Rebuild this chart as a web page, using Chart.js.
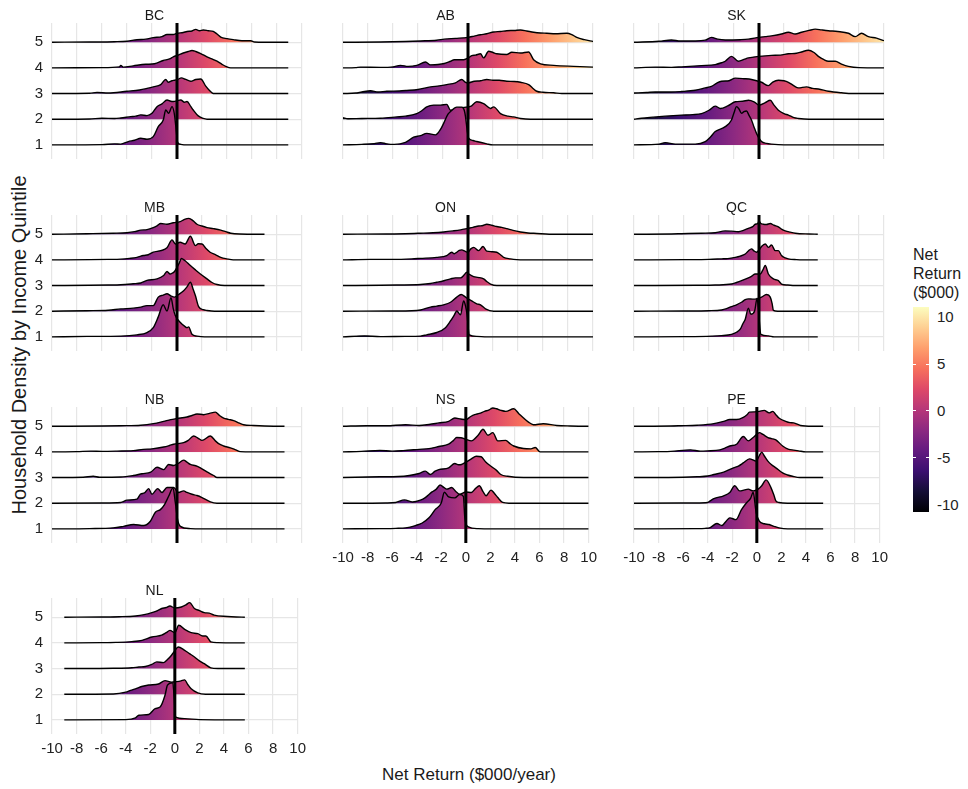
<!DOCTYPE html>
<html>
<head>
<meta charset="utf-8">
<script src="https://cdn.jsdelivr.net/npm/chart.js@4.4.1/dist/chart.umd.min.js"></script>
<style>
  body { margin: 0; background: #fff; width: 968px; height: 789px; position: relative; overflow: hidden;
         font-family: "Liberation Sans", Arial, sans-serif; }
  canvas { position: absolute; }
  .txt { position: absolute; color: #1a1a1a; white-space: nowrap; }
</style>
</head>
<body>
<div class="txt" style="left:0;width:938px;top:765px;font-size:17px;text-align:center;">Net Return ($000/year)</div>
<div class="txt" style="left:19px;top:345px;font-size:20px;transform:translate(-50%,-50%) rotate(-90deg);">Household Density by Income Quintile</div>
<div id="legend"></div>

<script>
// provinces in facet order, quintiles bottom to top
const provinces = ["BC", "AB", "SK", "MB", "ON", "QC", "NB", "NS", "PE", "NL"];
const quintiles = [1, 2, 3, 4, 5];
const xTicks = [-10, -8, -6, -4, -2, 0, 2, 4, 6, 8, 10];
const legendTicks = [10, 5, 0, -5, -10];
const colourMin = -10.8, colourMax = 11.1;

// density curves: [net return ($000), height] for quintile 1..5
const BC = [
  [[-10,0],[-6,0.01],[-5,0.04],[-4.5,0.03],[-3.9,0.13],[-3.4,0.18],[-2.9,0.26],[-2.4,0.22],[-1.9,0.32],[-1.5,0.71],[-1.1,0.97],[-0.9,1.36],[-0.67,1.23],[-0.4,1.49],[-0.2,1.17],[-0.05,0.5],[0.05,0.1],[0.3,0.02],[0.8,0],[8.9,0]],
  [[-10,0],[-7,0.01],[-6,0.04],[-5,0.03],[-4.5,0.05],[-3.7,0.1],[-3.3,0.12],[-2.9,0.17],[-2.4,0.14],[-2,0.23],[-1.6,0.49],[-1.2,0.6],[-0.8,0.75],[-0.5,0.7],[-0.3,0.69],[0,0.72],[0.3,0.75],[0.6,0.66],[0.8,0.69],[1.1,0.5],[1.3,0.36],[1.7,0.13],[2.1,0.03],[2.4,0],[8.9,0]],
  [[-10,0],[-7,0.01],[-6.4,0.04],[-5.5,0.02],[-4,0.09],[-3,0.14],[-2.4,0.2],[-1.9,0.26],[-1.3,0.35],[-0.9,0.55],[-0.7,0.44],[-0.4,0.5],[-0.2,0.52],[0.05,0.55],[0.35,0.61],[0.7,0.55],[1.1,0.48],[1.5,0.55],[1.9,0.57],[2.3,0.29],[2.6,0.12],[2.8,0.03],[3,0],[8.9,0]],
  [[-10,0],[-6,0.01],[-4.6,0.04],[-4.5,0.1],[-4.3,0.03],[-3.5,0.08],[-2.5,0.14],[-1.8,0.16],[-1.1,0.29],[-0.6,0.35],[-0.3,0.43],[0.1,0.5],[0.5,0.58],[0.9,0.64],[1.2,0.68],[1.5,0.64],[1.9,0.56],[2.4,0.43],[2.8,0.35],[3.2,0.26],[3.6,0.14],[3.9,0.06],[4.3,0],[8.9,0]],
  [[-10,0],[-7,0.01],[-5,0.02],[-4,0.04],[-3.2,0.1],[-2.5,0.12],[-1.9,0.18],[-1.2,0.22],[-0.8,0.3],[-0.3,0.3],[0,0.35],[0.5,0.38],[0.8,0.42],[1.2,0.44],[1.5,0.5],[1.8,0.45],[2.1,0.48],[2.5,0.45],[2.9,0.42],[3.2,0.32],[3.5,0.2],[4,0.14],[4.5,0.1],[5.2,0.06],[5.9,0.06],[6.2,0.01],[7,0],[8.9,0]]
];
const AB = [
  [[-10,0],[-8.5,0.02],[-7.5,0.05],[-7,0.09],[-6.5,0.04],[-5.9,0.02],[-5,0.1],[-4.35,0.3],[-3.8,0.36],[-3.3,0.45],[-2.6,0.39],[-2.2,0.6],[-1.95,0.84],[-1.6,1.2],[-1.4,1.3],[-0.9,1.47],[-0.5,1.47],[-0.3,1.35],[-0.2,1.1],[-0.05,0.5],[0.05,0.26],[0.4,0.17],[0.7,0.13],[1.5,0.04],[2,0],[10,0]],
  [[-10,0.06],[-9.6,0.02],[-8.5,0.03],[-7,0.04],[-5.7,0.09],[-5,0.12],[-4.1,0.22],[-3.7,0.33],[-3.3,0.48],[-2.75,0.55],[-2.2,0.55],[-1.7,0.58],[-1.4,0.35],[-0.6,0.45],[0.2,0.5],[0.7,0.68],[1.25,0.61],[1.8,0.42],[2.05,0.48],[2.6,0.22],[3.2,0.12],[3.65,0.09],[4.2,0.03],[5,0],[10,0]],
  [[-10,0],[-9,0.02],[-8.5,0.06],[-7.8,0.11],[-7.2,0.06],[-6.5,0.09],[-5.5,0.1],[-4.9,0.12],[-4,0.16],[-3,0.26],[-2.3,0.3],[-1.7,0.35],[-1,0.42],[-0.5,0.55],[-0.2,0.44],[0,0.42],[0.5,0.48],[1,0.5],[1.5,0.55],[2,0.52],[2.5,0.52],[3.1,0.48],[3.7,0.47],[4.2,0.44],[4.85,0.35],[5.2,0.2],[5.5,0.09],[6,0.05],[6.85,0.03],[7.5,0],[10,0]],
  [[-10,0],[-9,0.01],[-8.6,0.03],[-7,0.02],[-6,0.04],[-5.4,0.1],[-4.8,0.06],[-4.1,0.1],[-3.4,0.23],[-3,0.12],[-2.4,0.13],[-1.9,0.17],[-1.4,0.26],[-1.1,0.32],[-0.35,0.32],[0,0.38],[0.3,0.48],[0.6,0.5],[1,0.55],[1.25,0.39],[1.65,0.65],[2,0.6],[2.3,0.55],[3.1,0.52],[3.5,0.61],[4.2,0.58],[4.85,0.62],[5.25,0.32],[5.8,0.16],[6.85,0.1],[8.45,0.06],[10,0.03]],
  [[-10,0],[-7,0.01],[-5,0.03],[-3.8,0.05],[-2.5,0.08],[-1.9,0.12],[-1,0.15],[0,0.19],[0.5,0.24],[1,0.29],[1.5,0.33],[2.05,0.4],[2.6,0.42],[3.1,0.45],[3.7,0.46],[4.2,0.48],[4.7,0.44],[5.25,0.39],[5.8,0.36],[6.3,0.35],[7,0.33],[7.9,0.35],[8.3,0.3],[8.7,0.19],[9.3,0.1],[10,0.03]]
];
const SK = [
  [[-10,0],[-8,0.03],[-7.5,0.09],[-6.7,0.03],[-5.1,0.03],[-4.3,0.13],[-3.9,0.3],[-3.5,0.52],[-2.7,0.71],[-2.2,0.97],[-2,1.25],[-1.8,1.49],[-1.6,1.4],[-1.4,1.23],[-1.2,1.3],[-1,1.32],[-0.8,1.15],[-0.6,0.97],[-0.4,0.7],[-0.2,0.45],[0.2,0.13],[0.6,0.06],[1,0.03],[2,0],[10,0]],
  [[-10,0],[-9.4,0.04],[-8.5,0.08],[-7.5,0.12],[-6.2,0.16],[-5.3,0.18],[-4.6,0.22],[-4,0.35],[-3.5,0.51],[-3.1,0.42],[-2.5,0.52],[-1.9,0.68],[-1.3,0.7],[-0.85,0.74],[-0.4,0.68],[0,0.55],[0.5,0.65],[0.9,0.74],[1.2,0.55],[1.55,0.35],[2,0.22],[2.35,0.16],[2.8,0.06],[3.15,0.03],[4,0],[10,0]],
  [[-10,0.02],[-9,0.04],[-8.3,0.06],[-7,0.06],[-6.2,0.08],[-5.1,0.13],[-4.3,0.22],[-3.8,0.28],[-3.4,0.4],[-3,0.48],[-2.4,0.5],[-1.9,0.6],[-1.2,0.58],[-0.6,0.55],[0.2,0.44],[0.75,0.31],[1.1,0.45],[1.55,0.52],[2,0.5],[2.35,0.44],[2.8,0.3],[3.15,0.22],[3.8,0.26],[4.3,0.2],[4.75,0.18],[5.55,0.09],[6.6,0.03],[7.5,0],[10,0]],
  [[-10,0],[-8.3,0.03],[-7,0.02],[-6.2,0.04],[-4.6,0.09],[-3.5,0.13],[-3,0.2],[-2.7,0.26],[-2.2,0.45],[-1.65,0.26],[-1.2,0.33],[-0.85,0.39],[0,0.45],[1,0.49],[1.7,0.5],[2.35,0.55],[3,0.57],[3.4,0.62],[3.95,0.69],[4.4,0.6],[4.75,0.45],[5.2,0.32],[5.55,0.26],[6.1,0.26],[6.6,0.15],[7.15,0.06],[8,0.01],[10,0]],
  [[-10,0],[-8,0.04],[-7,0.09],[-6.3,0.05],[-5.1,0.05],[-4.3,0.08],[-3.8,0.19],[-3.3,0.12],[-2.7,0.09],[-1.5,0.1],[-0.85,0.12],[0,0.19],[0.5,0.22],[1,0.25],[1.8,0.32],[2.35,0.39],[2.9,0.32],[3.4,0.39],[4,0.46],[4.5,0.51],[5,0.48],[5.55,0.45],[6.3,0.42],[7.15,0.35],[7.7,0.22],[8.2,0.35],[8.75,0.22],[9.4,0.16],[10,0.06]]
];
const MB = [
  [[-10,0],[-7.2,0.02],[-4.5,0.03],[-3.2,0.08],[-2.4,0.17],[-1.9,0.36],[-1.5,0.78],[-1.1,1.25],[-0.8,1.01],[-0.48,1.53],[-0.3,1.1],[-0.13,0.82],[0.27,0.56],[0.6,0.42],[0.8,0.36],[0.93,0.39],[1.2,0.1],[1.6,0.03],[2.2,0],[7,0]],
  [[-10,0],[-7.2,0.02],[-5.5,0.04],[-4.5,0.09],[-3.5,0.12],[-2.9,0.16],[-2.4,0.22],[-1.9,0.22],[-1.5,0.55],[-1.1,0.63],[-0.8,0.68],[-0.5,0.6],[-0.2,0.55],[0.13,0.65],[0.53,0.8],[0.8,0.95],[1.07,1.13],[1.3,0.85],[1.47,0.61],[1.73,0.18],[2.1,0.06],[2.4,0.03],[3,0],[7,0]],
  [[-10,0],[-7,0.01],[-5.5,0.02],[-4.5,0.03],[-3.5,0.07],[-2.9,0.1],[-2.4,0.2],[-1.6,0.26],[-1.07,0.39],[-0.8,0.55],[-0.55,0.45],[-0.4,0.48],[-0.2,0.55],[0,0.71],[0.2,0.9],[0.35,1.06],[0.5,1.02],[0.65,0.97],[1.07,0.78],[1.5,0.6],[1.87,0.45],[2.4,0.26],[2.8,0.12],[3.2,0.04],[3.8,0],[7,0]],
  [[-10,0],[-7,0.01],[-5.5,0.02],[-4.5,0.03],[-3.8,0.06],[-3.2,0.1],[-2.7,0.17],[-2.3,0.2],[-1.9,0.3],[-1.3,0.36],[-0.8,0.47],[-0.4,0.78],[-0.13,0.62],[0.25,0.69],[0.65,0.62],[1.07,0.92],[1.47,0.56],[1.7,0.63],[2,0.62],[2.3,0.45],[2.65,0.3],[3.1,0.2],[3.5,0.1],[4,0.04],[4.5,0],[7,0]],
  [[-10,0],[-7.2,0.02],[-5.1,0.04],[-4,0.06],[-3.4,0.1],[-2.9,0.16],[-2.4,0.18],[-1.9,0.26],[-1.6,0.33],[-1.3,0.42],[-0.8,0.39],[-0.3,0.45],[0.25,0.49],[0.6,0.58],[0.95,0.62],[1.3,0.52],[1.6,0.39],[2,0.32],[2.4,0.26],[2.9,0.22],[3.5,0.16],[3.9,0.1],[4.3,0.04],[5,0.01],[7,0]]
];
const ON = [
  [[-10,0],[-8.3,0.04],[-7,0.01],[-5,0.02],[-3.8,0.03],[-3.3,0.08],[-2.5,0.17],[-1.8,0.36],[-1.4,0.62],[-1.1,0.85],[-0.9,1.01],[-0.6,0.86],[-0.35,1.4],[-0.2,1.21],[-0.08,0.88],[0.1,0.08],[0.7,0.02],[1.5,0],[10,0]],
  [[-10,0],[-6,0.01],[-4.5,0.02],[-3.8,0.05],[-3,0.16],[-2.5,0.2],[-1.95,0.25],[-1.4,0.35],[-0.9,0.55],[-0.55,0.65],[-0.2,0.55],[0,0.48],[0.3,0.4],[0.7,0.29],[1,0.25],[1.4,0.09],[2.05,0],[10,0]],
  [[-10,0],[-7,0.01],[-5.7,0.02],[-3.8,0.04],[-3,0.08],[-2.5,0.13],[-2,0.18],[-1.4,0.26],[-1,0.3],[-0.6,0.3],[-0.3,0.42],[-0.1,0.52],[0.1,0.44],[0.45,0.35],[0.8,0.32],[1.25,0.26],[1.5,0.16],[1.8,0.06],[2.3,0],[10,0]],
  [[-10,0],[-7.8,0.02],[-6,0.02],[-4.5,0.04],[-3.8,0.06],[-2.5,0.1],[-1.7,0.17],[-1.3,0.3],[-1.1,0.24],[-0.9,0.3],[-0.7,0.37],[-0.5,0.39],[-0.25,0.34],[0,0.3],[0.2,0.42],[0.45,0.49],[0.85,0.36],[1.2,0.52],[1.5,0.34],[1.9,0.32],[2.3,0.3],[2.6,0.2],[2.85,0.1],[3.4,0.04],[3.9,0.01],[4.5,0],[10,0]],
  [[-10,0],[-6.5,0.01],[-5,0.02],[-3.8,0.04],[-2.8,0.06],[-1.95,0.09],[-1.2,0.13],[-0.6,0.17],[0,0.23],[0.4,0.27],[0.85,0.32],[1.2,0.34],[1.5,0.39],[1.9,0.35],[2.3,0.3],[2.7,0.27],[3.1,0.22],[3.6,0.15],[4.2,0.09],[4.8,0.05],[5.5,0.03],[6.5,0],[10,0]]
];
const QC = [
  [[-10,0],[-6,0.01],[-3.8,0.03],[-3,0.05],[-2.2,0.1],[-1.8,0.18],[-1.5,0.3],[-1.3,0.5],[-1.1,0.69],[-0.85,1.12],[-0.65,0.88],[-0.35,1.01],[-0.15,1.51],[0,0.75],[0.15,0.1],[0.75,0.04],[1.2,0],[4.7,0]],
  [[-10,0],[-6,0.01],[-4,0.02],[-3,0.05],[-2.6,0.1],[-2.2,0.18],[-1.8,0.25],[-1.4,0.35],[-1.1,0.45],[-0.85,0.48],[-0.5,0.47],[-0.2,0.48],[0.2,0.55],[0.6,0.65],[0.9,0.55],[1.05,0.3],[1.15,0.03],[1.5,0],[4.7,0]],
  [[-10,0],[-5,0.01],[-3.5,0.02],[-2.2,0.06],[-1.8,0.12],[-1.4,0.19],[-0.85,0.3],[-0.6,0.36],[-0.3,0.45],[0.1,0.45],[0.3,0.6],[0.5,0.78],[0.75,0.45],[1.15,0.26],[1.55,0.19],[1.8,0.06],[2.3,0.02],[3,0],[4.7,0]],
  [[-10,0],[-6,0.01],[-4,0.02],[-3,0.04],[-2.5,0.05],[-1.9,0.1],[-1.5,0.15],[-1.1,0.23],[-0.85,0.35],[-0.6,0.43],[-0.4,0.35],[-0.2,0.3],[0,0.38],[0.2,0.52],[0.5,0.62],[0.75,0.49],[1,0.58],[1.3,0.36],[1.55,0.36],[1.8,0.17],[2.1,0.08],[2.35,0.04],[3,0.01],[3.5,0],[4.7,0]],
  [[-10,0],[-7,0.01],[-6.2,0.02],[-4.6,0.04],[-3.5,0.06],[-2.7,0.13],[-2.2,0.12],[-1.65,0.1],[-1.2,0.16],[-0.85,0.23],[-0.5,0.3],[-0.3,0.39],[-0.1,0.42],[0,0.52],[0.15,0.42],[0.35,0.39],[0.6,0.38],[0.9,0.42],[1.2,0.35],[1.55,0.29],[1.8,0.2],[2.1,0.13],[2.5,0.08],[2.9,0.04],[4,0.01],[4.7,0]]
];
const NB = [
  [[-10,0],[-7,0.01],[-5.1,0.04],[-4.27,0.1],[-3.47,0.17],[-2.67,0.13],[-2.13,0.3],[-1.73,0.65],[-1.33,0.75],[-1,0.95],[-0.67,1.27],[-0.32,1.6],[-0.13,1.01],[0.05,0.36],[0.27,0.1],[1.07,0.01],[2,0],[8.6,0]],
  [[-10,0],[-6,0.01],[-4.5,0.03],[-4,0.12],[-3.2,0.16],[-2.93,0.35],[-2.6,0.4],[-2.27,0.57],[-2,0.35],[-1.55,0.57],[-1.2,0.42],[-0.8,0.61],[-0.27,0.61],[0.13,0.42],[0.53,0.48],[0.8,0.42],[1.2,0.35],[1.6,0.3],[2,0.22],[2.67,0.05],[3.2,0],[8.6,0]],
  [[-10,0],[-7.5,0.01],[-6.7,0.05],[-6.2,0.01],[-4.5,0.02],[-3.5,0.08],[-2.8,0.15],[-2.1,0.21],[-1.6,0.4],[-1.07,0.31],[-0.67,0.51],[-0.27,0.47],[0.1,0.55],[0.53,0.68],[0.8,0.6],[1.07,0.51],[1.5,0.46],[1.87,0.38],[2.4,0.22],[2.93,0.08],[3.2,0],[8.6,0]],
  [[-10,0],[-8,0.01],[-6.9,0.03],[-6,0.02],[-4.8,0.03],[-3.5,0.05],[-2.7,0.1],[-2,0.12],[-1.07,0.19],[-0.6,0.25],[-0.27,0.3],[0.53,0.36],[0.9,0.45],[1.33,0.62],[1.73,0.52],[2,0.45],[2.67,0.62],[3.07,0.43],[3.4,0.3],[3.73,0.23],[4.27,0.16],[4.7,0.08],[5.07,0.01],[6,0],[8.6,0]],
  [[-10,0],[-6,0.01],[-4.5,0.02],[-2.9,0.04],[-1.9,0.1],[-1.07,0.19],[-0.5,0.26],[0,0.3],[0.8,0.36],[1.2,0.42],[1.6,0.48],[2.13,0.45],[2.6,0.5],[3.07,0.55],[3.4,0.42],[3.73,0.32],[4.1,0.27],[4.53,0.22],[5,0.12],[5.33,0.06],[6.13,0.03],[7,0.01],[8.6,0]]
];
const NS = [
  [[-10,0],[-7,0.01],[-5.7,0.02],[-4.9,0.04],[-4.1,0.13],[-3.55,0.23],[-3,0.43],[-2.5,0.75],[-2,1.01],[-1.75,1.43],[-1.4,1.25],[-0.9,1.21],[-0.5,1.34],[-0.2,1.27],[-0.08,0.43],[0.2,0.08],[1,0.01],[2,0],[10,0]],
  [[-10,0],[-6.5,0.01],[-5.7,0.03],[-5,0.13],[-4.35,0.05],[-3.7,0.12],[-3.3,0.22],[-2.75,0.44],[-2.4,0.55],[-2.1,0.71],[-1.8,0.62],[-1.55,0.55],[-1.15,0.61],[-0.8,0.45],[-0.5,0.35],[0,0.44],[0.45,0.42],[0.8,0.58],[1.1,0.68],[1.4,0.45],[1.65,0.29],[2.05,0.51],[2.3,0.4],[2.6,0.22],[3,0.03],[3.5,0],[10,0]],
  [[-10,0],[-7,0.03],[-5.5,0.04],[-4.6,0.08],[-3.8,0.16],[-3.3,0.25],[-2.9,0.12],[-2.5,0.25],[-2.2,0.31],[-1.4,0.38],[-0.9,0.55],[-0.6,0.5],[-0.35,0.51],[0,0.6],[0.45,0.73],[0.85,0.83],[1.25,0.81],[1.6,0.62],[2.05,0.44],[2.5,0.28],[2.85,0.12],[3.4,0.05],[4.7,0],[10,0]],
  [[-10,0],[-8.5,0.02],[-7,0.06],[-6,0.03],[-5.1,0.05],[-3.8,0.1],[-3,0.13],[-2.2,0.21],[-1.4,0.3],[-1,0.45],[-0.75,0.56],[-0.4,0.55],[0,0.49],[0.45,0.43],[1,0.65],[1.4,0.88],[1.8,0.65],[2.2,0.75],[2.6,0.43],[3.25,0.45],[3.6,0.32],[3.9,0.23],[4.7,0.13],[5.3,0.12],[5.65,0.17],[6.05,0],[10,0]],
  [[-10,0],[-8.1,0.02],[-6.5,0.02],[-4.9,0.06],[-3.8,0.03],[-3,0.07],[-2.2,0.13],[-1.4,0.19],[-0.9,0.32],[-0.4,0.28],[0,0.26],[0.4,0.38],[0.72,0.45],[1.1,0.5],[1.52,0.58],[1.9,0.64],[2.2,0.71],[2.5,0.68],[2.85,0.62],[3.25,0.58],[3.9,0.68],[4.3,0.5],[4.7,0.32],[5.1,0.16],[5.5,0.06],[6.3,0.1],[7.4,0.03],[8.5,0.01],[10,0]]
];
const PE = [
  [[-10,0],[-5,0.01],[-4.2,0.02],[-3.8,0.05],[-3.25,0.21],[-2.85,0.13],[-2.5,0.3],[-2.2,0.43],[-1.7,0.36],[-1.25,0.75],[-0.85,1.01],[-0.5,1.2],[-0.3,1.43],[-0.05,0.62],[0.2,0.3],[0.6,0.2],[1,0.17],[1.4,0.1],[1.8,0.04],[2.5,0],[5.4,0]],
  [[-10,0],[-5,0.01],[-4,0.03],[-3.8,0.09],[-3.5,0.18],[-2.7,0.29],[-2.2,0.42],[-1.8,0.68],[-1.4,0.48],[-1,0.52],[-0.7,0.55],[-0.3,0.48],[0.1,0.55],[0.4,0.68],[0.75,0.91],[1.15,0.61],[1.4,0.3],[1.55,0.09],[1.8,0.03],[2.5,0],[5.4,0]],
  [[-10,0],[-6,0.01],[-4.85,0.03],[-4,0.06],[-3.5,0.12],[-2.7,0.21],[-1.9,0.38],[-1.5,0.45],[-1.1,0.57],[-0.6,0.73],[-0.05,0.64],[0.2,0.85],[0.4,0.99],[0.6,0.85],[0.9,0.64],[1.2,0.5],[1.55,0.38],[2.1,0.18],[2.5,0.1],[2.9,0.05],[3.5,0],[5.4,0]],
  [[-10,0],[-8,0.01],[-7,0.02],[-5.4,0.08],[-4.6,0.03],[-4.05,0.04],[-3,0.08],[-2.6,0.15],[-2.2,0.23],[-1.65,0.3],[-1.1,0.6],[-0.7,0.43],[-0.3,0.56],[0.2,0.75],[0.5,0.68],[0.9,0.56],[1.2,0.52],[1.55,0.47],[2.1,0.23],[2.6,0.1],[3,0.07],[3.4,0.04],[4,0],[5.4,0]],
  [[-10,0],[-7,0.01],[-6.2,0.02],[-4.85,0.04],[-3.5,0.1],[-2.7,0.19],[-2.2,0.26],[-1.65,0.26],[-1.1,0.35],[-0.8,0.45],[-0.6,0.55],[-0.2,0.56],[0.2,0.58],[0.6,0.62],[1,0.52],[1.3,0.58],[1.5,0.48],[1.8,0.32],[2.35,0.19],[2.7,0.14],[3,0.13],[3.55,0.03],[4.5,0],[5.4,0]]
];
const NL = [
  [[-9,0],[-4,0.01],[-3.2,0.08],[-2.93,0.18],[-2.13,0.21],[-1.6,0.44],[-1.2,0.5],[-0.8,0.96],[-0.6,1.35],[-0.2,1.45],[-0.05,0.9],[0.05,0.12],[0.8,0.05],[2,0.01],[5.7,0]],
  [[-9,0],[-5,0.01],[-4,0.08],[-3.6,0.15],[-3.2,0.21],[-2.7,0.3],[-2.13,0.36],[-1.33,0.4],[-0.8,0.53],[-0.27,0.47],[0.13,0.49],[0.5,0.52],[0.8,0.56],[1.05,0.38],[1.33,0.21],[1.87,0.05],[2.5,0],[5.7,0]],
  [[-9,0],[-5,0.01],[-3.5,0.03],[-2.93,0.06],[-2.4,0.08],[-1.87,0.16],[-1.47,0.26],[-0.93,0.23],[-0.6,0.35],[-0.27,0.52],[0,0.7],[0.27,0.84],[0.8,0.71],[1.2,0.58],[1.6,0.45],[2,0.3],[2.4,0.19],[2.93,0.03],[3.5,0],[5.7,0]],
  [[-9,0],[-6,0.01],[-4.8,0.02],[-3.5,0.05],[-2.67,0.1],[-1.87,0.23],[-1.07,0.3],[-0.7,0.4],[-0.4,0.49],[0,0.4],[0.32,0.69],[0.8,0.53],[1.33,0.4],[1.87,0.36],[2.27,0.27],[2.53,0.27],[2.93,0.04],[3.5,0.01],[5.7,0]],
  [[-9,0],[-6,0.01],[-4.5,0.02],[-3.2,0.05],[-2.5,0.1],[-1.87,0.18],[-1.4,0.26],[-1.07,0.34],[-0.7,0.38],[-0.4,0.44],[0,0.36],[0.53,0.4],[0.9,0.48],[1.2,0.57],[1.6,0.34],[2,0.26],[2.4,0.18],[2.8,0.16],[3.2,0.08],[4.27,0.03],[5,0.01],[5.7,0]]
];
const ridges = { BC, AB, SK, MB, ON, QC, NB, NS, PE, NL };

// magma colour ramp
const magma = ["#000004", "#140e36", "#3b0f70", "#641a80", "#8c2981", "#b73779",
               "#de4968", "#f7705c", "#fe9f6d", "#fecf92", "#fcfdbf"];

const FONT = '"Liberation Sans", Arial, sans-serif';
const colLeft = [52, 343, 634];
const rowTop = [23, 215, 407, 598];
const PW = 250.5, PH = 136;
const PADL = 45, PADR = 10, PADT = 23, PADB = 35;

function magmaFill(ctx) {
  const chart = ctx.chart;
  if (!chart.chartArea) return "#b73779";
  if (!chart.$magma) {
    const xs = chart.scales.x;
    const g = chart.ctx.createLinearGradient(xs.getPixelForValue(colourMin), 0, xs.getPixelForValue(colourMax), 0);
    magma.forEach((c, i) => g.addColorStop(i / (magma.length - 1), c));
    chart.$magma = g;
  }
  return chart.$magma;
}

provinces.forEach((prov, i) => {
  const col = i % 3, row = Math.floor(i / 3);
  const showX = prov === "NS" || prov === "PE" || prov === "NL";
  const showY = col === 0;

  const canvas = document.createElement("canvas");
  canvas.width = PADL + PW + PADR;
  canvas.height = PADT + PH + PADB;
  canvas.style.left = (colLeft[col] - PADL) + "px";
  canvas.style.top = (rowTop[row] - PADT) + "px";
  document.body.appendChild(canvas);

  const datasets = [{
    data: [{ x: 0, y: 0.45 }, { x: 0, y: 5.75 }],
    borderColor: "#000",
    borderWidth: 3,
    pointRadius: 0,
    fill: false
  }];
  quintiles.forEach((q, k) => {
    datasets.push({
      data: ridges[prov][k].map(p => ({ x: p[0], y: q + p[1] })),
      borderColor: "#000",
      borderWidth: 1.4,
      backgroundColor: magmaFill,
      fill: { value: q },
      pointRadius: 0,
      cubicInterpolationMode: "monotone"
    });
  });

  new Chart(canvas, {
    type: "line",
    data: { datasets: datasets },
    options: {
      responsive: false,
      devicePixelRatio: 1,
      animation: false,
      events: [],
      layout: { padding: { top: 0, right: PADR, left: 0, bottom: 0 } },
      plugins: {
        legend: { display: false },
        tooltip: { enabled: false },
        title: {
          display: true,
          text: prov,
          color: "#1a1a1a",
          font: { family: FONT, size: 14, weight: "normal", lineHeight: 1 },
          padding: { top: 9, bottom: 0 }
        }
      },
      scales: {
        x: {
          type: "linear",
          min: -10,
          max: 10,
          afterBuildTicks: axis => { axis.ticks = xTicks.map(v => ({ value: v })); },
          afterFit: axis => { axis.height = PADB; },
          ticks: {
            display: showX,
            color: "#222",
            padding: 6,
            maxRotation: 0,
            autoSkip: false,
            font: { family: FONT, size: 15 }
          },
          grid: { color: "#e6e6e6", lineWidth: 1.2, drawTicks: false },
          border: { display: false }
        },
        y: {
          type: "linear",
          min: 0.45,
          max: 5.75,
          afterBuildTicks: axis => { axis.ticks = quintiles.map(v => ({ value: v })); },
          afterFit: axis => { axis.width = PADL; },
          ticks: {
            display: showY,
            color: "#222",
            padding: 9,
            font: { family: FONT, size: 15 }
          },
          grid: { color: "#e6e6e6", lineWidth: 1.2, drawTicks: false },
          border: { display: false }
        }
      }
    }
  });
});

// colour bar legend
const legend = document.getElementById("legend");
const barTop = 307, barH = 205, barLeft = 913, barW = 16;
const valToY = v => barTop + (colourMax - v) / (colourMax - colourMin) * barH;
let html = '<div class="txt" style="left:913px;top:245px;font-size:16px;line-height:19px;">Net<br>Return<br>($000)</div>';
html += '<div style="position:absolute;left:' + barLeft + 'px;top:' + barTop + 'px;width:' + barW + 'px;height:' + barH +
        'px;background:linear-gradient(to top,' + magma.join(",") + ');"></div>';
legendTicks.forEach(v => {
  const y = valToY(v);
  html += '<div class="txt" style="left:937px;top:' + (y - 8) + 'px;font-size:15px;line-height:16px;color:#222;">' + v + '</div>';
  if (Math.abs(v) < 10) {
    html += '<div style="position:absolute;left:' + barLeft + 'px;top:' + (y - 0.5) + 'px;width:3px;height:1px;background:#fff;"></div>';
    html += '<div style="position:absolute;left:' + (barLeft + barW - 3) + 'px;top:' + (y - 0.5) + 'px;width:3px;height:1px;background:#fff;"></div>';
  }
});
legend.innerHTML = html;
</script>
</body>
</html>
